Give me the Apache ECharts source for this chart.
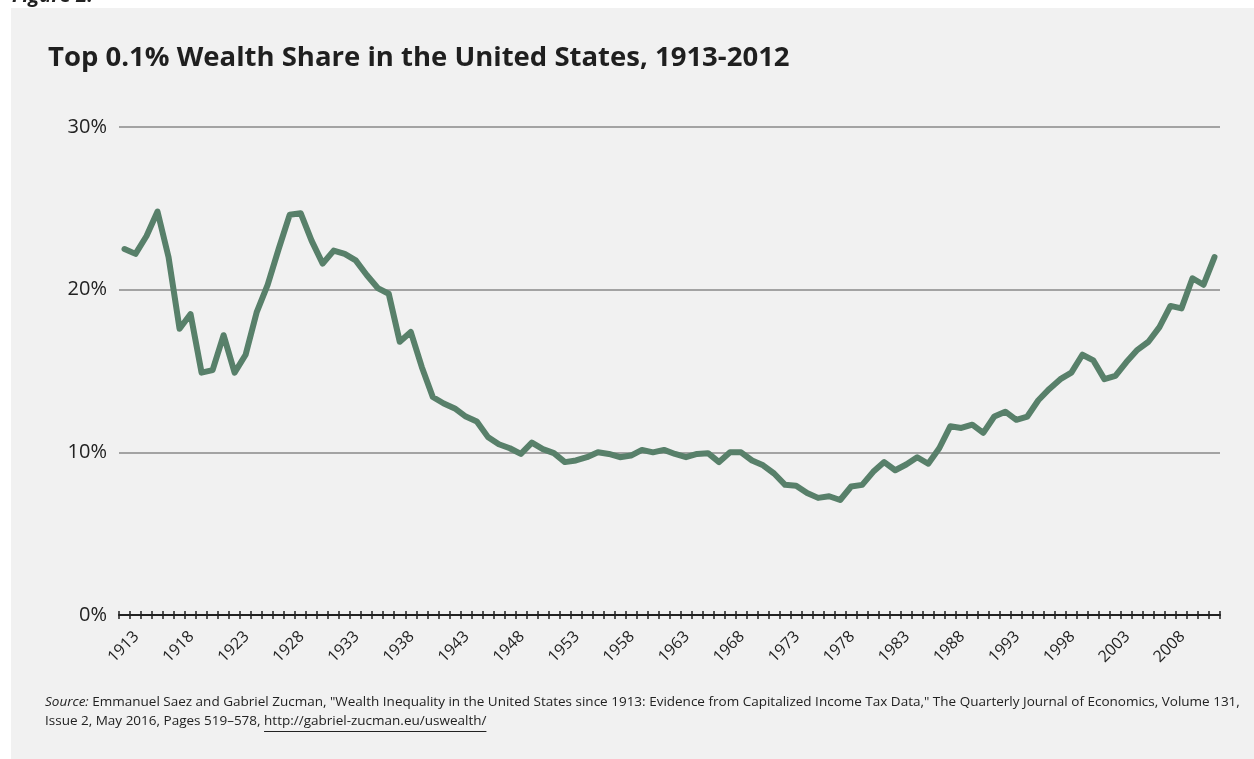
<!DOCTYPE html>
<html>
<head>
<meta charset="utf-8">
<script src="https://cdn.jsdelivr.net/npm/echarts@6/dist/echarts.min.js"></script>
<style>
  html, body { margin: 0; padding: 0; background: #ffffff; }
  #main { width: 1254px; height: 759px; }
</style>
</head>
<body>
<div id="main"></div>
<script>
// years 1913..2012
var years = [];
for (var y = 1913; y <= 2012; y++) { years.push(String(y)); }

// top 0.1% wealth share, percent
var share1913 = [22.5, 22.2, 23.3, 24.8, 22.0, 17.6, 18.5, 14.9, 15.05, 17.2,
                 14.9, 16.0, 18.6, 20.3, 22.5, 24.6, 24.7, 23.0, 21.6, 22.4];
var share1933 = [22.2, 21.8, 20.9, 20.1, 19.75, 16.8, 17.4, 15.25, 13.4, 13.0,
                 12.7, 12.2, 11.9, 10.95, 10.5, 10.25, 9.9, 10.6, 10.2, 9.95];
var share1953 = [9.4, 9.5, 9.7, 10.0, 9.9, 9.7, 9.8, 10.15, 10.0, 10.15,
                 9.9, 9.7, 9.9, 9.95, 9.4, 10.0, 10.0, 9.5, 9.2, 8.7];
var share1973 = [8.0, 7.95, 7.5, 7.2, 7.3, 7.07, 7.9, 8.0, 8.8, 9.4,
                 8.9, 9.25, 9.7, 9.3, 10.25, 11.6, 11.5, 11.7, 11.2, 12.2];
var share1993 = [12.5, 12.0, 12.2, 13.2, 13.9, 14.5, 14.9, 16.0, 15.65, 14.5,
                 14.7, 15.55, 16.3, 16.8, 17.7, 19.0, 18.85, 20.7, 20.3, 22.0];
var shareValues = share1913.concat(share1933, share1953, share1973, share1993);

var yTicks = [0, 10, 20, 30];

var srcFont = '13.5px "Open Sans"';
var srcLine1 = ' Emmanuel Saez and Gabriel Zucman, "Wealth Inequality in the United States since 1913: Evidence from Capitalized Income Tax Data," The Quarterly Journal of Economics, Volume 131,';
var srcPrefix2 = 'Issue 2, May 2016, Pages 519\u2013578, ';
var srcUrl = 'http://gabriel-zucman.eu/uswealth/';

// where the url sits, for the underline
var ctx = document.createElement('canvas').getContext('2d');
ctx.font = srcFont;
var urlStart = 45 + ctx.measureText(srcPrefix2).width;
var urlWidth = ctx.measureText(srcUrl).width;

var chart = echarts.init(document.getElementById('main'));

var option = {
    backgroundColor: '#ffffff',
    animation: false,
    graphic: [
        {
            type: 'rect',
            left: 11, top: 8,
            shape: { width: 1243, height: 751 },
            style: { fill: '#f1f1f1' },
            z: -10
        },
        {
            type: 'text',
            left: 12, top: -14,
            style: {
                text: 'Figure 2.',
                font: 'italic bold 20px "Open Sans"',
                fill: '#222222'
            }
        },
        {
            type: 'text',
            left: 45, top: 693,
            style: {
                text: '{i|Source:}' + srcLine1 + '\n' + srcPrefix2 + srcUrl,
                font: srcFont,
                fill: '#222222',
                lineHeight: 19,
                rich: {
                    i: { fontStyle: 'italic', fontFamily: 'Open Sans', fontSize: 13.5, fill: '#222222' }
                }
            }
        },
        {
            type: 'line',
            shape: { x1: urlStart, y1: 731.5, x2: urlStart + urlWidth, y2: 731.5 },
            style: { stroke: '#222222', lineWidth: 1 }
        }
    ],
    title: {
        text: 'Top 0.1% Wealth Share in the United States, 1913-2012',
        left: 43,
        top: 39,
        textStyle: {
            fontFamily: 'Open Sans',
            fontWeight: 'bold',
            fontSize: 27.5,
            color: '#1f1f1f'
        }
    },
    grid: {
        left: 119,
        right: 34,
        top: 127,
        bottom: 144,
        containLabel: false
    },
    xAxis: [
        {
            type: 'category',
            data: years,
            boundaryGap: true,
            axisLine: { lineStyle: { color: '#222222', width: 2 } },
            axisTick: { show: true, interval: 0, length: 4, lineStyle: { color: '#222222', width: 1.5 } },
            axisLabel: {
                interval: 4,
                rotate: 45,
                margin: 7,
                align: 'right',
                verticalAlign: 'top',
                padding: [9, 0, 0, 0],
                fontFamily: 'Open Sans',
                fontSize: 16,
                color: '#222222'
            },
            splitLine: { show: false }
        },
        {
            type: 'category',
            data: years,
            boundaryGap: true,
            position: 'bottom',
            axisLine: { show: false },
            axisTick: { show: true, inside: true, interval: 0, length: 4, lineStyle: { color: '#222222', width: 1.5 } },
            axisLabel: { show: false },
            splitLine: { show: false }
        }
    ],
    yAxis: {
        type: 'value',
        min: yTicks[0],
        max: yTicks[yTicks.length - 1],
        interval: 10,
        axisLine: { show: false },
        axisTick: { show: false },
        axisLabel: {
            formatter: '{value}%',
            margin: 12,
            fontFamily: 'Open Sans',
            fontSize: 20,
            color: '#222222'
        },
        splitLine: { lineStyle: { color: '#a3a3a3', width: 2 } }
    },
    series: [
        {
            name: 'Top 0.1% wealth share',
            type: 'line',
            xAxisIndex: 0,
            data: shareValues,
            symbol: 'none',
            lineStyle: { color: '#58806a', width: 6, join: 'round', cap: 'round' },
            z: 5
        }
    ]
};

chart.setOption(option);
</script>
</body>
</html>
